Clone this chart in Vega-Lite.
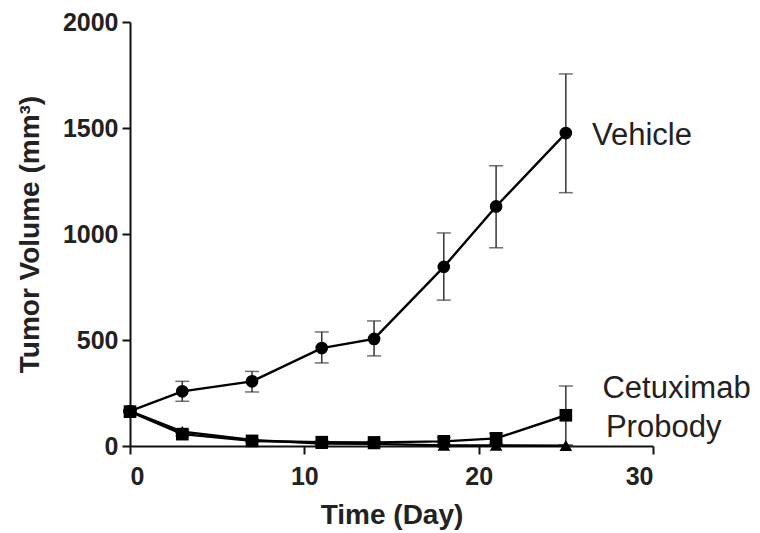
{
  "$schema": "https://vega.github.io/schema/vega-lite/v6.json",
  "autosize": "none",
  "width": 523,
  "height": 424,
  "padding": {"left": 130, "top": 22, "right": 107, "bottom": 87},
  "background": "white",
  "config": {
    "view": {"stroke": null},
    "font": "Liberation Sans",
    "axis": {
      "grid": false,
      "domainColor": "#111",
      "domainWidth": 2,
      "tickColor": "#111",
      "tickWidth": 2,
      "tickSize": 8,
      "labelFont": "Liberation Sans",
      "labelFontWeight": "bold",
      "labelFontSize": 25,
      "labelColor": "#222",
      "titleFont": "Liberation Sans",
      "titleFontWeight": "bold",
      "titleFontSize": 28,
      "titleColor": "#222"
    }
  },
  "datasets": {
    "series": [
      {"group": "Vehicle", "day": 0, "mean": 165, "lo": 160, "hi": 170},
      {"group": "Vehicle", "day": 3, "mean": 258, "lo": 211, "hi": 305},
      {"group": "Vehicle", "day": 7, "mean": 305, "lo": 255, "hi": 352},
      {"group": "Vehicle", "day": 11, "mean": 462, "lo": 392, "hi": 538},
      {"group": "Vehicle", "day": 14, "mean": 505, "lo": 425, "hi": 590},
      {"group": "Vehicle", "day": 18, "mean": 845, "lo": 688, "hi": 1005},
      {"group": "Vehicle", "day": 21, "mean": 1130, "lo": 935, "hi": 1322},
      {"group": "Vehicle", "day": 25, "mean": 1476, "lo": 1195, "hi": 1755},
      {"group": "Probody", "day": 0, "mean": 165, "lo": 160, "hi": 170},
      {"group": "Probody", "day": 3, "mean": 68, "lo": 60, "hi": 76},
      {"group": "Probody", "day": 7, "mean": 28, "lo": 24, "hi": 32},
      {"group": "Probody", "day": 11, "mean": 12, "lo": 9, "hi": 15},
      {"group": "Probody", "day": 14, "mean": 10, "lo": 8, "hi": 12},
      {"group": "Probody", "day": 18, "mean": 3, "lo": 2, "hi": 4},
      {"group": "Probody", "day": 21, "mean": 3, "lo": 2, "hi": 4},
      {"group": "Probody", "day": 25, "mean": 2, "lo": 1, "hi": 3},
      {"group": "Cetuximab", "day": 0, "mean": 162, "lo": 157, "hi": 167},
      {"group": "Cetuximab", "day": 3, "mean": 56, "lo": 48, "hi": 64},
      {"group": "Cetuximab", "day": 7, "mean": 24, "lo": 18, "hi": 30},
      {"group": "Cetuximab", "day": 11, "mean": 18, "lo": 12, "hi": 24},
      {"group": "Cetuximab", "day": 14, "mean": 17, "lo": 12, "hi": 22},
      {"group": "Cetuximab", "day": 18, "mean": 22, "lo": 5, "hi": 40},
      {"group": "Cetuximab", "day": 21, "mean": 36, "lo": 10, "hi": 60},
      {"group": "Cetuximab", "day": 25, "mean": 145, "lo": 5, "hi": 283}
    ],
    "labels": [
      {"label": "Vehicle", "day": 26.5, "value": 1420},
      {"label": "Cetuximab", "day": 27.1, "value": 226},
      {"label": "Probody", "day": 27.3, "value": 42}
    ]
  },
  "encoding": {
    "x": {
      "type": "quantitative",
      "scale": {"domain": [0, 30], "nice": false},
      "axis": {"values": [0, 10, 20, 30], "format": "d", "title": "Time (Day)", "labelPadding": 10, "titlePadding": 12}
    },
    "y": {
      "type": "quantitative",
      "scale": {"domain": [0, 2000], "nice": false},
      "axis": {"values": [0, 500, 1000, 1500, 2000], "format": "d", "title": "Tumor Volume (mm³)", "labelPadding": 4, "titlePadding": 18}
    }
  },
  "layer": [
    {
      "data": {"name": "series"},
      "mark": {"type": "errorbar", "color": "#333", "thickness": 1.5, "ticks": {"size": 14, "thickness": 1.5, "color": "#333"}},
      "encoding": {
        "x": {"field": "day", "type": "quantitative"},
        "y": {"field": "lo", "type": "quantitative"},
        "y2": {"field": "hi"}
      }
    },
    {
      "data": {"name": "series"},
      "mark": {"type": "line", "color": "#000", "strokeWidth": 2.4, "clip": false},
      "encoding": {
        "x": {"field": "day", "type": "quantitative"},
        "y": {"field": "mean", "type": "quantitative"},
        "detail": {"field": "group"}
      }
    },
    {
      "data": {"name": "series"},
      "mark": {"type": "point", "filled": true, "color": "#000", "opacity": 1, "size": 160, "clip": false},
      "encoding": {
        "x": {"field": "day", "type": "quantitative"},
        "y": {"field": "mean", "type": "quantitative"},
        "shape": {
          "field": "group",
          "type": "nominal",
          "scale": {"domain": ["Vehicle", "Cetuximab", "Probody"], "range": ["circle", "square", "triangle-up"]},
          "legend": null
        }
      }
    },
    {
      "data": {"name": "labels"},
      "mark": {"type": "text", "align": "left", "baseline": "alphabetic", "fontSize": 31, "color": "#222", "font": "Liberation Sans"},
      "encoding": {
        "x": {"field": "day", "type": "quantitative"},
        "y": {"field": "value", "type": "quantitative"},
        "text": {"field": "label"}
      }
    }
  ]
}
